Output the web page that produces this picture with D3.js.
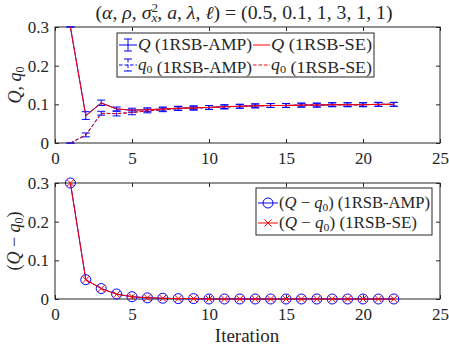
<!DOCTYPE html>
<html><head><meta charset="utf-8">
<script src="https://cdn.jsdelivr.net/npm/d3@7"></script>
<style>
body{margin:0;background:#fff}
svg{display:block}
</style>
</head><body>
<svg id="c" width="449" height="345" font-family="Liberation Serif"></svg>
<script>
// ---------- data ----------
const iterations = [1,2,3,4,5,6,7,8,9,10,11,12,13,14,15,16,17,18,19,20,21,22];
const qAMP   = [0.300,0.071,0.104,0.088,0.085,0.086,0.088,0.090,0.091,0.092,0.094,0.095,0.096,0.097,0.097,0.098,0.098,0.099,0.099,0.099,0.100,0.100];
const qErr   = [0.000,0.010,0.007,0.005,0.005,0.005,0.005,0.005,0.005,0.005,0.005,0.005,0.005,0.005,0.005,0.005,0.005,0.005,0.005,0.005,0.005,0.005];
const q0AMP  = [0.000,0.021,0.077,0.076,0.079,0.083,0.086,0.089,0.090,0.092,0.093,0.095,0.096,0.097,0.097,0.098,0.098,0.099,0.099,0.099,0.100,0.100];
const q0Err  = [0.000,0.005,0.005,0.006,0.006,0.005,0.005,0.005,0.005,0.005,0.005,0.005,0.005,0.005,0.005,0.005,0.005,0.005,0.005,0.005,0.005,0.005];
const qSE    = [0.300,0.070,0.103,0.088,0.085,0.086,0.088,0.090,0.091,0.092,0.094,0.095,0.096,0.097,0.097,0.098,0.098,0.099,0.099,0.099,0.100,0.100];
const q0SE   = [0.000,0.020,0.076,0.076,0.079,0.083,0.086,0.089,0.090,0.092,0.093,0.095,0.096,0.097,0.097,0.098,0.098,0.099,0.099,0.099,0.100,0.100];
const diffAMP= [0.300,0.050,0.027,0.013,0.006,0.003,0.002,0.001,0.001,0.000,0.000,0.000,0.000,0.000,0.000,0.000,0.000,0.000,0.000,0.000,0.000,0.000];
const diffSE = [0.300,0.050,0.027,0.012,0.006,0.003,0.002,0.001,0.001,0.000,0.000,0.000,0.000,0.000,0.000,0.000,0.000,0.000,0.000,0.000,0.000,0.000];
const xTicks = [0,5,10,15,20,25];
const yTicks = [0,0.1,0.2,0.3];
const yTickLabels = ["0","0.1","0.2","0.3"];

// ---------- layout ----------
const FONT = "'Liberation Serif', serif";
const svg = d3.select("#c");
const AX = "#262626", BLUE = "#0000ff", RED = "#ff0000";
const left = 55, right = 440;
const panels = [{top:27,bottom:143},{top:183,bottom:299}];
const x = d3.scaleLinear().domain([0,25]).range([left,right]);
const ys = panels.map(p => d3.scaleLinear().domain([0,0.3]).range([p.bottom,p.top]));

function txt(sel){ return sel.append("text").style("font-family",FONT).attr("fill",AX); }
function rich(sel, parts){
  parts.forEach(p=>{
    const t = sel.append("tspan").text(p.t);
    if(p.i) t.attr("font-style","italic");
    if(p.s) t.attr("font-size",p.s);
    if(p.dy!=null) t.attr("dy",p.dy);
    if(p.dx!=null) t.attr("dx",p.dx);
  });
}

function drawAxes(i){
  const p = panels[i], y = ys[i];
  const g = svg.append("g");
  g.append("rect").attr("x",left).attr("y",p.top).attr("width",right-left).attr("height",p.bottom-p.top)
    .attr("fill","none").attr("stroke",AX).attr("stroke-width",1);
  const xg = g.append("g").attr("transform",`translate(0,${p.bottom})`)
    .call(d3.axisBottom(x).tickValues(xTicks).tickSize(-4).tickPadding(9).tickFormat(d3.format("d")));
  const xt = g.append("g").attr("transform",`translate(0,${p.top})`).call(d3.axisTop(x).tickValues(xTicks).tickSize(-4).tickFormat(""));
  const yg = g.append("g").attr("transform",`translate(${left},0)`)
    .call(d3.axisLeft(y).tickValues(yTicks).tickSize(-4).tickPadding(6).tickFormat((d,k)=>yTickLabels[k]));
  const yr = g.append("g").attr("transform",`translate(${right},0)`).call(d3.axisRight(y).tickValues(yTicks).tickSize(-4).tickFormat(""));
  [xg,xt,yg,yr].forEach(a=>{
    a.attr("font-family",null);
    a.select(".domain").remove();
    a.selectAll(".tick line").attr("stroke",AX);
    a.selectAll("text").attr("fill",AX).attr("font-size",17).style("font-family",FONT);
  });
}

// ---------- top panel ----------
drawAxes(0);
const y0 = ys[0];
const line0 = arr => d3.line().x((d,k)=>x(iterations[k])).y(d=>y0(d))(arr);
const topG = svg.append("g");
function errSeries(vals, errs, dash){
  const g = topG.append("g");
  g.append("path").attr("d",line0(vals)).attr("fill","none").attr("stroke",BLUE).attr("stroke-width",1)
   .attr("stroke-dasharray",dash);
  iterations.forEach((it,k)=>{
    const cx = x(it), lo = y0(vals[k]-errs[k]), hi = y0(vals[k]+errs[k]);
    g.append("line").attr("x1",cx).attr("x2",cx).attr("y1",lo).attr("y2",hi).attr("stroke",BLUE).attr("stroke-dasharray",dash);
    [lo,hi].forEach(yy=>g.append("line").attr("x1",cx-4).attr("x2",cx+4).attr("y1",yy).attr("y2",yy).attr("stroke",BLUE));
  });
}
errSeries(qAMP,qErr,null);
errSeries(q0AMP,q0Err,"3.5,2");
topG.append("path").attr("d",line0(qSE)).attr("fill","none").attr("stroke",RED).attr("stroke-width",1);
topG.append("path").attr("d",line0(q0SE)).attr("fill","none").attr("stroke",RED).attr("stroke-width",1).attr("stroke-dasharray","3.5,2");

// top legend
const lg = svg.append("g");
lg.append("rect").attr("x",117).attr("y",33).attr("width",257).attr("height",44).attr("fill","#fff").attr("stroke",AX).attr("stroke-width",1);
function legErr(cx0,cy,dash){
  lg.append("line").attr("x1",cx0).attr("x2",cx0+18).attr("y1",cy).attr("y2",cy).attr("stroke",BLUE).attr("stroke-dasharray",dash);
  const c = cx0+9;
  lg.append("line").attr("x1",c).attr("x2",c).attr("y1",cy-6).attr("y2",cy+6).attr("stroke",BLUE).attr("stroke-dasharray",dash);
  [cy-6,cy+6].forEach(yy=>lg.append("line").attr("x1",c-4).attr("x2",c+4).attr("y1",yy).attr("y2",yy).attr("stroke",BLUE));
}
legErr(119,45,null);
legErr(119,65,"3.5,2");
lg.append("line").attr("x1",253).attr("x2",270).attr("y1",45).attr("y2",45).attr("stroke",RED);
lg.append("line").attr("x1",253).attr("x2",270).attr("y1",65).attr("y2",65).attr("stroke",RED).attr("stroke-dasharray","3.5,2");
const legFont = 16;
function legText(g,xx,yy,parts,w){
  const t = txt(g).attr("x",xx).attr("y",yy+5).attr("font-size",legFont)
    .attr("textLength",w).attr("lengthAdjust","spacingAndGlyphs");
  rich(t, parts);
}
const Qp = [{t:"Q",i:1}];
const q0p = [{t:"q",i:1},{t:"0",s:11,dy:3},{t:"",dy:-3}];
legText(lg,138,45,Qp.concat([{t:" (1RSB-AMP)"}]),114);
legText(lg,271,45,Qp.concat([{t:" (1RSB-SE)"}]),101);
legText(lg,138,65,q0p.concat([{t:" (1RSB-AMP)"}]),114);
legText(lg,271,65,q0p.concat([{t:" (1RSB-SE)"}]),101);

// title
const title = txt(svg).attr("x",244).attr("y",19).attr("text-anchor","middle").attr("font-size",18)
  .attr("textLength",297).attr("lengthAdjust","spacingAndGlyphs");
rich(title,[
  {t:"("},{t:"α",i:1},{t:", "},{t:"ρ",i:1},{t:", "},{t:"σ",i:1},
  {t:"2",s:12,dy:-7},{t:"x",i:1,s:12,dy:10,dx:-6},{t:", ",dy:-3},
  {t:"a",i:1},{t:", "},{t:"λ",i:1},{t:", "},{t:"ℓ",i:1},{t:") = (0.5, 0.1, 1, 3, 1, 1)"}
]);

// y label top
const yl1 = txt(svg).attr("transform","translate(21,85) rotate(-90)").attr("text-anchor","middle").attr("font-size",18);
rich(yl1,[{t:"Q",i:1},{t:",  "},{t:"q",i:1},{t:"0",s:12,dy:3}]);

// ---------- bottom panel ----------
drawAxes(1);
const y1 = ys[1];
const line1 = arr => d3.line().x((d,k)=>x(iterations[k])).y(d=>y1(d))(arr);
const botG = svg.append("g");
botG.append("path").attr("d",line1(diffAMP)).attr("fill","none").attr("stroke",BLUE);
botG.selectAll("circle.m").data(diffAMP).join("circle").attr("cx",(d,k)=>x(iterations[k])).attr("cy",d=>y1(d))
  .attr("r",5).attr("fill","none").attr("stroke",BLUE);
botG.append("path").attr("d",line1(diffSE)).attr("fill","none").attr("stroke",RED);
function xMark(g,cx,cy){
  const s=3.5;
  g.append("path").attr("d",`M${cx-s},${cy-s}L${cx+s},${cy+s}M${cx-s},${cy+s}L${cx+s},${cy-s}`).attr("stroke",RED).attr("fill","none");
}
diffSE.forEach((d,k)=>xMark(botG,x(iterations[k]),y1(d)));

// bottom legend
const lg2 = svg.append("g");
lg2.append("rect").attr("x",256).attr("y",188).attr("width",176).attr("height",47).attr("fill","#fff").attr("stroke",AX);
lg2.append("line").attr("x1",258).attr("x2",278).attr("y1",203).attr("y2",203).attr("stroke",BLUE);
lg2.append("circle").attr("cx",268).attr("cy",203).attr("r",5).attr("fill","none").attr("stroke",BLUE);
lg2.append("line").attr("x1",258).attr("x2",278).attr("y1",223).attr("y2",223).attr("stroke",RED);
xMark(lg2,268,223);
const dp = [{t:"("},{t:"Q",i:1},{t:" − "},{t:"q",i:1},{t:"0",s:11,dy:3},{t:")",dy:-3}];
legText(lg2,279,203,dp.concat([{t:" (1RSB-AMP)"}]),151);
legText(lg2,279,223,dp.concat([{t:" (1RSB-SE)"}]),138);

// y label bottom
const yl2 = txt(svg).attr("transform","translate(20,241) rotate(-90)").attr("text-anchor","middle").attr("font-size",18);
rich(yl2,[{t:"("},{t:"Q",i:1},{t:" − "},{t:"q",i:1},{t:"0",s:12,dy:3},{t:")",dy:-3}]);

// x label
txt(svg).attr("x",247).attr("y",342).attr("text-anchor","middle").attr("font-size",19).text("Iteration");
</script>
</body></html>
